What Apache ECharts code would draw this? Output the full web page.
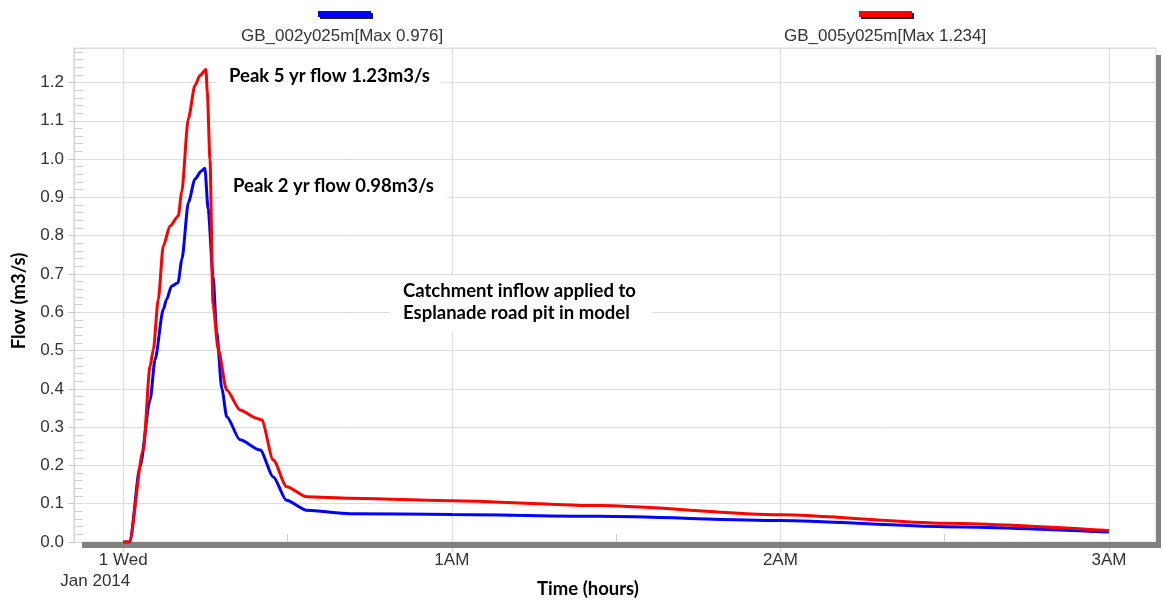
<!DOCTYPE html>
<html><head><meta charset="utf-8">
<script src="https://cdn.jsdelivr.net/npm/echarts@6/dist/echarts.min.js"></script>
<style>html,body{margin:0;padding:0;background:#fff}#c{width:1163px;height:601px}</style>
</head><body><div id="c"></div>
<script>
// ---- data (time in minutes from 1 Jan 2014 00:00, flow in m3/s) ----
const seriesNames = ['GB_002y025m[Max 0.976]', 'GB_005y025m[Max 1.234]'];
const time2yr = [0, 1.2, 3.05, 4.9, 5.8, 7.3, 7.9, 8.8, 10.0, 10.7, 11.9, 13.1, 14.2, 14.9, 15.5, 16.4, 17.05, 18.0, 18.9, 21.3, 25.0, 27.4, 29.8, 33.5, 41.4, 60, 87, 120, 150, 180];
const flow2yr = [0, 0, 0.196, 0.371, 0.476, 0.607, 0.633, 0.668, 0.677, 0.738, 0.887, 0.948, 0.968, 0.976, 0.869, 0.694, 0.55, 0.40, 0.327, 0.267, 0.240, 0.170, 0.109, 0.083, 0.074, 0.072, 0.067, 0.056, 0.040, 0.026];
const time5yr = [0, 1.1, 3.65, 4.88, 5.48, 6.39, 7.3, 8.53, 10.04, 10.66, 11.87, 13.09, 14.0, 15.1, 15.34, 15.83, 16.38, 17.35, 18.88, 21.31, 24.36, 25.27, 27.39, 29.84, 33.49, 41.4, 60, 87, 120, 150, 180];
const flow5yr = [0, 0, 0.240, 0.458, 0.502, 0.633, 0.773, 0.825, 0.851, 0.913, 1.105, 1.192, 1.218, 1.234, 1.175, 1.0, 0.62, 0.502, 0.397, 0.345, 0.323, 0.319, 0.214, 0.144, 0.118, 0.114, 0.108, 0.095, 0.071, 0.049, 0.030];
const xTickValues = [0, 60, 120, 180];
const xTickLabels = ['1 Wed', '1AM', '2AM', '3AM'];
const xDateLabel = 'Jan 2014';
const xMinorTickValues = [30, 90, 150];
const yAxisTitle = 'Flow (m3/s)';
const xAxisTitle = 'Time (hours)';
const annotationTexts = ['Peak 5 yr flow 1.23m3/s', 'Peak 2 yr flow 0.98m3/s', 'Catchment inflow applied to\nEsplanade road pit in model'];

const zip = (t, v) => t.map((x, i) => [x, v[i]]);
const SANS = "'Liberation Sans', Arial, sans-serif";
const BOLD = "Lato, 'Open Sans', sans-serif";
const TXT = '#333';
const BFONT = 'bold 18.5px ' + BOLD;

const chart = echarts.init(document.getElementById('c'));
const X_MIN = -9, X_MAX = 188.6, Y_MAX = 1.29;

function legendIcon(name, left, color) {
  return { data: [name], left: left, top: 11, icon: 'rect', itemWidth: 53, itemHeight: 6,
    selectedMode: false, formatter: () => '', padding: 0,
    itemStyle: { color: color, shadowColor: '#222', shadowOffsetX: 2, shadowOffsetY: 2, shadowBlur: 0 } };
}
function legendText(name, left) {
  return { data: [name], left: left, top: 26, icon: 'none', itemWidth: 0, itemHeight: 0,
    selectedMode: false, padding: 0,
    textStyle: { color: TXT, fontFamily: SANS, fontSize: 17, lineHeight: 20 } };
}

const option = {
  backgroundColor: '#fff',
  animation: false,
  grid: { left: 74, right: 7, top: 48, bottom: 59, show: true, borderColor: '#dcdcdc', borderWidth: 1, outerBoundsMode: 'none', containLabel: false },
  legend: [
    legendIcon(seriesNames[0], 318, '#0000ff'),
    legendIcon(seriesNames[1], 859, '#ff0000'),
    legendText(seriesNames[0], 236),
    legendText(seriesNames[1], 779)
  ],
  xAxis: [{
    type: 'value', position: 'bottom', min: X_MIN, max: X_MAX,
    name: xAxisTitle, nameLocation: 'middle', nameGap: 38, nameMoveOverlap: false,
    nameTextStyle: { fontFamily: BOLD, fontWeight: 'bold', fontSize: 18.5, color: '#000', padding: [0, 54, 0, 0] },
    axisLine: { show: false, onZero: false },
    axisTick: { show: true, customValues: xTickValues, length: 10, lineStyle: { color: '#d0d0d0' } },
    axisLabel: {
      customValues: xTickValues, margin: 8, color: TXT, fontFamily: SANS, fontSize: 17, lineHeight: 21,
      formatter: (v) => {
        const i = xTickValues.indexOf(Math.round(v));
        if (i === 0) return '{a|' + xTickLabels[0] + '}\n{b|' + xDateLabel + '}';
        return i >= 0 ? xTickLabels[i] : '';
      },
      rich: {
        a: { fontFamily: SANS, fontSize: 17, lineHeight: 21, color: TXT, align: 'center' },
        b: { fontFamily: SANS, fontSize: 17, lineHeight: 21, color: TXT, align: 'center', padding: [0, 56, 0, 0] }
      }
    },
    splitLine: { show: true, lineStyle: { color: '#dcdcdc', width: 1 } }
  }, {
    type: 'value', position: 'bottom', min: X_MIN, max: X_MAX, offset: 0,
    axisLine: { show: false, onZero: false }, axisLabel: { show: false }, splitLine: { show: false },
    axisTick: { show: true, inside: true, customValues: xMinorTickValues, length: 8, lineStyle: { color: '#cfcfcf' } }
  }],
  yAxis: [{
    type: 'value', position: 'left', min: 0, max: Y_MAX, interval: 0.1,
    name: yAxisTitle, nameLocation: 'middle', nameGap: 45, nameMoveOverlap: false,
    nameTextStyle: { fontFamily: BOLD, fontWeight: 'bold', fontSize: 18.5, color: '#000', padding: [0, 12, 0, 0] },
    axisLine: { show: true, onZero: false, lineStyle: { color: '#d0d0d0' } },
    axisTick: { show: true, length: 6, lineStyle: { color: '#c8c8c8' } },
    axisLabel: { margin: 10, color: TXT, fontFamily: SANS, fontSize: 17, showMaxLabel: false, formatter: (v) => v.toFixed(1) },
    splitLine: { show: true, lineStyle: { color: '#dcdcdc', width: 1 } }
  }, {
    type: 'value', position: 'left', min: 0, max: Y_MAX, interval: 0.1, offset: 0,
    axisLine: { show: false, onZero: false }, axisLabel: { show: false }, splitLine: { show: false },
    axisTick: { show: false, inside: true },
    minorTick: { show: true, splitNumber: 5, length: 9, lineStyle: { color: '#d0d0d0' } }
  }],
  series: [
    { name: seriesNames[0], type: 'line', data: zip(time2yr, flow2yr), showSymbol: false, symbol: 'none',
      smooth: 0.25, smoothMonotone: 'x', lineStyle: { color: '#0000ff', width: 3 }, itemStyle: { color: '#0000ff' }, z: 3 },
    { name: seriesNames[1], type: 'line', data: zip(time5yr, flow5yr), showSymbol: false, symbol: 'none',
      smooth: 0.25, smoothMonotone: 'x', lineStyle: { color: '#ff0000', width: 3 }, itemStyle: { color: '#ff0000' }, z: 4 }
  ],
  graphic: [
    // frame shadow (right and bottom)
    { type: 'rect', z: 1, shape: { x: 1156, y: 55, width: 5, height: 493 }, style: { fill: '#808080' } },
    { type: 'rect', z: 1, shape: { x: 82, y: 542, width: 1079, height: 6 }, style: { fill: '#808080' } },
    // annotation boxes
    { type: 'rect', z: 5, shape: { x: 217, y: 61, width: 224, height: 34 }, style: { fill: '#fff' } },
    { type: 'text', z: 6, x: 229, y: 76, style: { text: annotationTexts[0], fill: '#000', font: BFONT, verticalAlign: 'middle' } },
    { type: 'rect', z: 5, shape: { x: 221, y: 170, width: 226, height: 33 }, style: { fill: '#fff' } },
    { type: 'text', z: 6, x: 233, y: 186, style: { text: annotationTexts[1], fill: '#000', font: BFONT, verticalAlign: 'middle' } },
    { type: 'rect', z: 5, shape: { x: 390, y: 276, width: 262, height: 56 }, style: { fill: '#fff' } },
    { type: 'text', z: 6, x: 403, y: 302.5, style: { text: annotationTexts[2], fill: '#000', font: BFONT, lineHeight: 22, verticalAlign: 'middle' } }
  ]
};
chart.setOption(option);
</script></body></html>
